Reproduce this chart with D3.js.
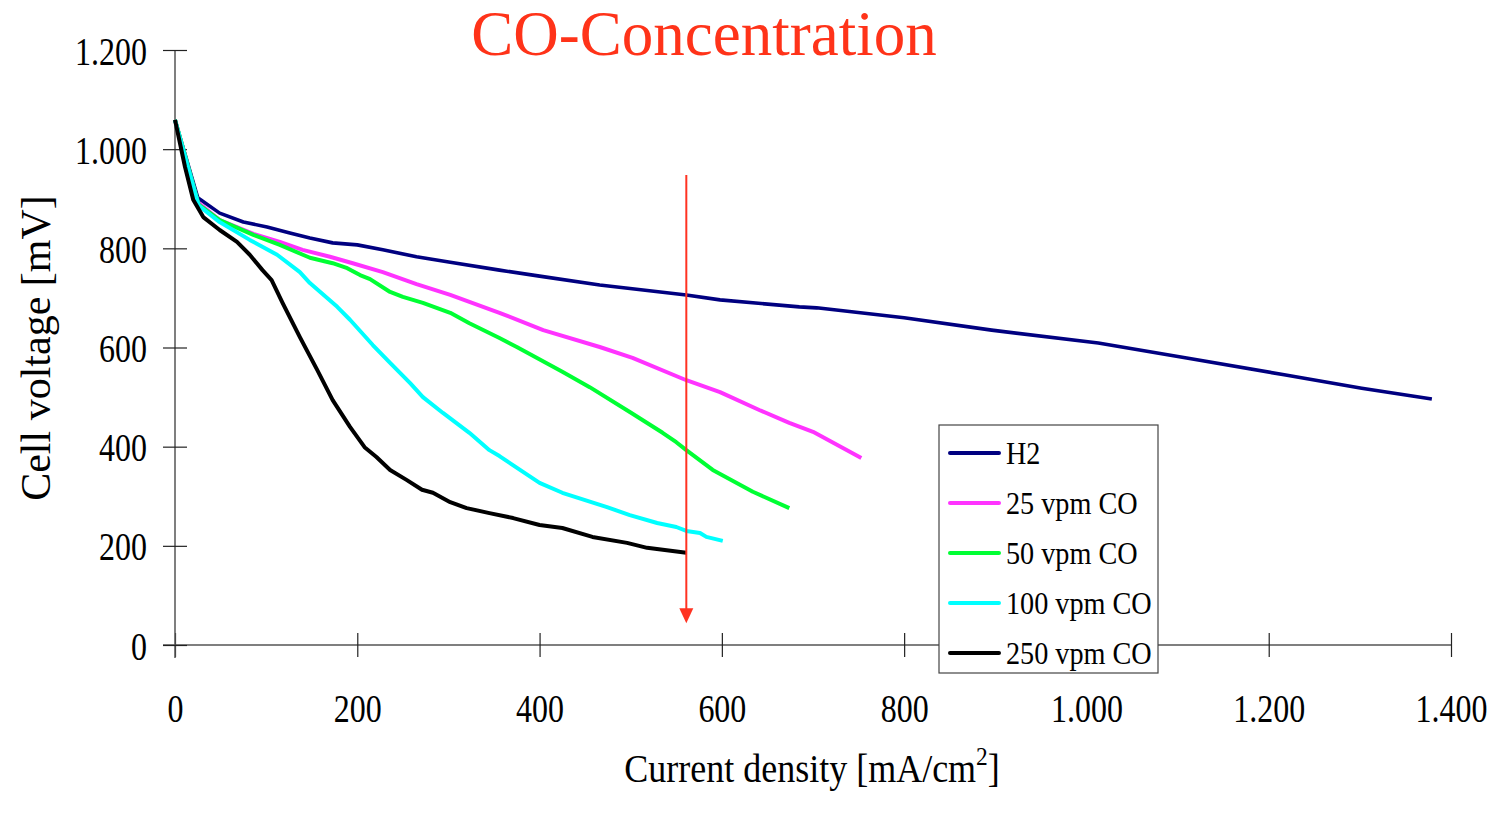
<!DOCTYPE html>
<html>
<head>
<meta charset="utf-8">
<script src="https://cdn.jsdelivr.net/npm/d3@7"></script>
<style>
  body { margin: 0; background: #fff; }
  text { font-family: "Liberation Serif", "Times New Roman", serif; }
</style>
</head>
<body>
<div id="chart"></div>
<script>
// current density [mA/cm2], cell voltage [mV]
var seriesNames = ["H2", "25 vpm CO", "50 vpm CO", "100 vpm CO", "250 vpm CO"];
var seriesColors = ["#000080", "#ff33ff", "#00ff33", "#00ffff", "#000000"];

var h2 = [[0,1059],[25,902],[49,871],[75,853],[101,843],[126,831],[148,821],[173,811],[200,807],[228,797],[265,783],[302,772],[356,756],[400,744],[466,726],[561,706],[598,696],[685,682],[704,680],[800,660],[896,635],[1013,609],[1110,579],[1217,545],[1302,518],[1379,496]];
var co25 = [[0,1059],[25,893],[49,857],[86,829],[115,813],[140,797],[170,783],[195,770],[228,752],[265,728],[302,706],[356,670],[404,635],[466,601],[502,579],[561,534],[598,510],[641,474],[674,448],[700,430],[753,377]];
var co50 = [[0,1059],[26,888],[49,857],[86,827],[115,807],[148,781],[173,770],[189,760],[203,746],[214,738],[236,712],[250,702],[272,690],[302,670],[323,649],[356,619],[375,601],[425,551],[455,520],[499,470],[535,428],[550,409],[561,393],[590,353],[634,309],[674,276]];
var co100 = [[0,1059],[26,886],[49,853],[82,817],[112,787],[137,752],[148,730],[178,682],[192,656],[217,605],[236,569],[258,528],[272,500],[294,468],[323,428],[345,393],[356,381],[400,327],[425,307],[474,278],[499,262],[529,246],[550,238],[561,230],[576,226],[583,218],[601,210]];
var co250 = [[0,1059],[11,964],[20,898],[31,863],[49,837],[68,813],[82,787],[96,756],[106,736],[118,690],[137,621],[156,555],[173,494],[192,440],[208,399],[221,379],[236,353],[254,333],[271,313],[283,307],[302,288],[320,276],[345,266],[371,256],[400,242],[425,236],[458,218],[496,206],[518,196],[561,186]];
var allSeries = [h2, co25, co50, co100, co250];

var xTicks = [0, 200, 400, 600, 800, 1000, 1200, 1400];
var yTicks = [0, 200, 400, 600, 800, 1000, 1200];
var arrowX = 561, arrowFrom = 948, arrowTo = 44;

var width = 1503, height = 819;

var x = d3.scaleLinear().domain([0, 1400]).range([175, 1451]);
var y = d3.scaleLinear().domain([0, 1200]).range([645, 50]);

var fmt = d => d3.format(",")(d).replace(/,/g, ".");

var svg = d3.select("#chart").append("svg")
    .attr("width", width)
    .attr("height", height);

// x axis
var gx = svg.append("g")
    .attr("transform", `translate(0,${y(0)})`)
    .call(d3.axisBottom(x).tickValues(xTicks).tickSize(12).tickSizeOuter(0).tickFormat(fmt));
gx.select(".domain").attr("d", `M163,0H${x(1400)}`).attr("stroke", "#555").attr("stroke-width", 1.5);
gx.selectAll(".tick line").attr("y1", -12).attr("stroke", "#222").attr("stroke-width", 1.2);
gx.selectAll(".tick text")
    .attr("y", 0).attr("dy", 0)
    .attr("transform", "translate(0,77) scale(0.82,1)")
    .attr("font-size", 39).attr("fill", "#000")
    .style("font-family", "Liberation Serif");

// y axis
var gy = svg.append("g")
    .attr("transform", `translate(${x(0)},0)`)
    .call(d3.axisLeft(y).tickValues(yTicks).tickSize(12).tickSizeOuter(0).tickFormat(fmt));
gy.select(".domain").attr("d", `M0,${y(1200)}V658`).attr("stroke", "#555").attr("stroke-width", 1.5);
gy.selectAll(".tick line").attr("x1", 12).attr("stroke", "#222").attr("stroke-width", 1.2);
gy.selectAll(".tick text")
    .attr("x", 0).attr("dy", 0)
    .attr("transform", "translate(-28,14) scale(0.82,1)")
    .attr("font-size", 39).attr("fill", "#000")
    .style("font-family", "Liberation Serif");

// lines
var line = d3.line().x(d => x(d[0])).y(d => y(d[1]));
svg.append("g")
    .selectAll("path")
    .data(allSeries)
    .join("path")
    .attr("d", line)
    .attr("fill", "none")
    .attr("stroke", (d, i) => seriesColors[i])
    .attr("stroke-width", (d, i) => i == 0 ? 3.6 : 4)
    .attr("stroke-linejoin", "round");

// red arrow
svg.append("line")
    .attr("x1", x(arrowX)).attr("x2", x(arrowX))
    .attr("y1", y(arrowFrom)).attr("y2", y(arrowTo) - 12)
    .attr("stroke", "#ff3322").attr("stroke-width", 2);
svg.append("path")
    .attr("d", `M${x(arrowX) - 7},${y(arrowTo) - 15}L${x(arrowX) + 7},${y(arrowTo) - 15}L${x(arrowX)},${y(arrowTo)}Z`)
    .attr("fill", "#ff3322");

// title
svg.append("text")
    .attr("x", 704).attr("y", 55)
    .attr("text-anchor", "middle")
    .attr("font-size", 63)
    .attr("fill", "#ff3319")
    .text("CO-Concentration");

// axis titles
svg.append("text")
    .attr("transform", "translate(50,348) rotate(-90)")
    .attr("text-anchor", "middle")
    .attr("font-size", 42)
    .text("Cell voltage [mV]");

var xt = svg.append("text")
    .attr("transform", "translate(812,782) scale(0.9,1)")
    .attr("text-anchor", "middle")
    .attr("font-size", 40);
xt.append("tspan").text("Current density [mA/cm");
xt.append("tspan").attr("dy", -17).attr("font-size", 26).text("2");
xt.append("tspan").attr("dy", 17).text("]");

// legend
var legend = svg.append("g").attr("transform", "translate(939,425)");
legend.append("rect")
    .attr("width", 219).attr("height", 248)
    .attr("fill", "#fff").attr("stroke", "#444").attr("stroke-width", 1.2);
var items = legend.selectAll("g.item")
    .data(seriesNames)
    .join("g")
    .attr("class", "item")
    .attr("transform", (d, i) => `translate(0,${28 + i * 50})`);
items.append("line")
    .attr("x1", 11).attr("x2", 60)
    .attr("stroke", (d, i) => seriesColors[i])
    .attr("stroke-width", 4).attr("stroke-linecap", "round");
items.append("text")
    .attr("transform", "translate(67,11) scale(0.91,1)")
    .attr("font-size", 31)
    .text(d => d);
</script>
</body>
</html>
